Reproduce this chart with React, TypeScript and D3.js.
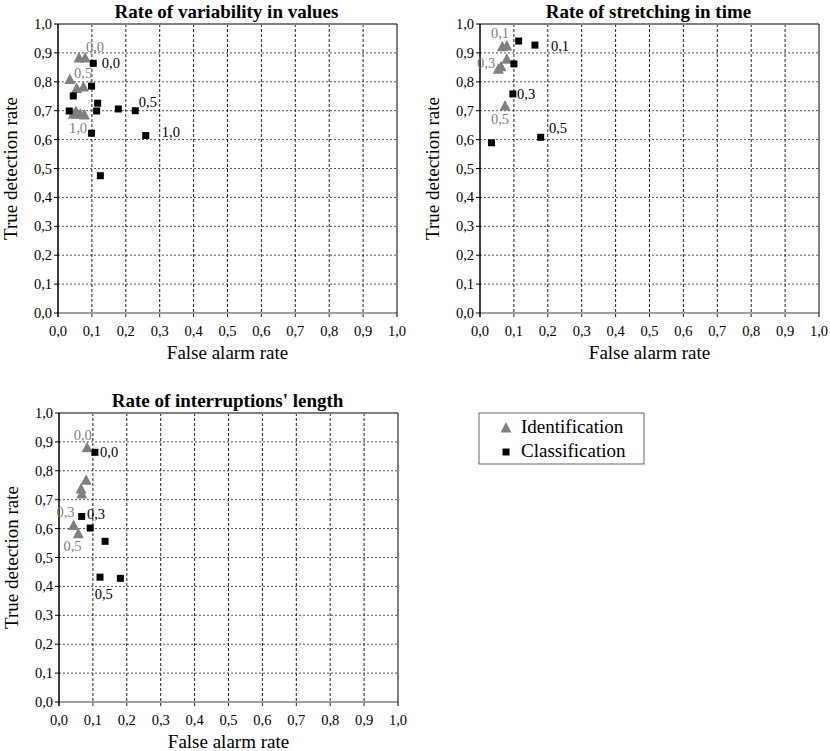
import React from "react";
import * as d3 from "d3";

const ticks = [0, 0.1, 0.2, 0.3, 0.4, 0.5, 0.6, 0.7, 0.8, 0.9, 1.0];
const fmt = (v: number) => v.toFixed(1).replace(".", ",");

const titles = ["Rate of variability in values", "Rate of stretching in time", "Rate of interruptions' length"];
const xTitle = "False alarm rate";
const yTitle = "True detection rate";
const seriesNames = ["Identification", "Classification"];

// Panel 1: variability in values
const ident1: [number, number][] = [
  [0.035, 0.808], [0.062, 0.882], [0.08, 0.882], [0.055, 0.777], [0.075, 0.782],
  [0.045, 0.688], [0.053, 0.697], [0.066, 0.688], [0.078, 0.685],
];
const class1: [number, number][] = [
  [0.104, 0.864], [0.099, 0.785], [0.045, 0.751], [0.033, 0.699], [0.117, 0.726],
  [0.114, 0.699], [0.178, 0.706], [0.228, 0.70], [0.099, 0.622], [0.259, 0.614], [0.125, 0.475],
];
const identLabels1: [number, number, string][] = [[0.109, 0.921, "0,0"], [0.074, 0.83, "0,5"], [0.059, 0.64, "1,0"]];
const classLabels1: [number, number, string][] = [[0.156, 0.865, "0,0"], [0.265, 0.73, "0,5"], [0.333, 0.626, "1,0"]];

// Panel 2: stretching in time
const ident2: [number, number][] = [
  [0.066, 0.921], [0.079, 0.924], [0.079, 0.878], [0.054, 0.843], [0.062, 0.852], [0.074, 0.716],
];
const class2: [number, number][] = [
  [0.114, 0.941], [0.162, 0.927], [0.100, 0.862], [0.097, 0.758], [0.179, 0.608], [0.034, 0.589],
];
const identLabels2: [number, number, string][] = [[0.059, 0.968, "0,1"], [0.018, 0.864, "0,3"], [0.059, 0.67, "0,5"]];
const classLabels2: [number, number, string][] = [[0.236, 0.925, "0,1"], [0.136, 0.758, "0,3"], [0.23, 0.639, "0,5"]];

// Panel 3: interruptions' length
const ident3: [number, number][] = [
  [0.083, 0.88], [0.080, 0.767], [0.065, 0.737], [0.067, 0.72], [0.043, 0.611], [0.057, 0.582],
];
const class3: [number, number][] = [
  [0.106, 0.864], [0.067, 0.642], [0.092, 0.602], [0.136, 0.556], [0.121, 0.432], [0.181, 0.428],
];
const identLabels3: [number, number, string][] = [[0.07, 0.924, "0,0"], [0.019, 0.656, "0,3"], [0.04, 0.539, "0,5"]];
const classLabels3: [number, number, string][] = [[0.148, 0.864, "0,0"], [0.109, 0.651, "0,3"], [0.132, 0.372, "0,5"]];

const panelsData = [
  { ident: ident1, cls: class1, il: identLabels1, cl: classLabels1 },
  { ident: ident2, cls: class2, il: identLabels2, cl: classLabels2 },
  { ident: ident3, cls: class3, il: identLabels3, cl: classLabels3 },
];

const layouts = [
  { left: 58, top: 24, w: 339, h: 289 },
  { left: 480, top: 24, w: 339, h: 289 },
  { left: 59, top: 413, w: 339, h: 289 },
];

const GRAY = "#808080";
const FONT = "'Liberation Serif', 'Times New Roman', Times, serif";

function triPath(cx: number, cy: number, s: number) {
  return `M${cx},${cy - s * 0.6}L${cx + s * 0.55},${cy + s * 0.45}L${cx - s * 0.55},${cy + s * 0.45}Z`;
}

function Panel({ idx }: { idx: number }) {
  const L = layouts[idx];
  const D = panelsData[idx];
  const x = d3.scaleLinear().domain([0, 1]).range([L.left, L.left + L.w]);
  const y = d3.scaleLinear().domain([0, 1]).range([L.top + L.h, L.top]);
  return (
    <g>
      <text x={L.left + L.w / 2 - 1} y={L.top - 6} textAnchor="middle" style={{ fontSize: 19, fontWeight: "bold" }}>
        {titles[idx]}
      </text>
      {ticks.slice(1, 10).map((t) => (
        <line key={"hg" + t} x1={x(0)} x2={x(1)} y1={y(t)} y2={y(t)} stroke="#555" strokeWidth={1} strokeDasharray="2,2" />
      ))}
      {ticks.slice(1, 10).map((t) => (
        <line key={"vg" + t} x1={x(t)} x2={x(t)} y1={y(1)} y2={y(0) + 4} stroke="#222" strokeWidth={1} strokeDasharray="3,2" />
      ))}
      <line x1={x(0)} x2={x(1)} y1={y(1)} y2={y(1)} stroke="#808080" strokeWidth={2} />
      <line x1={x(0)} x2={x(1)} y1={y(0)} y2={y(0)} stroke="#808080" strokeWidth={1.5} />
      <line x1={x(1)} x2={x(1)} y1={y(1)} y2={y(0) + 4} stroke="#000" strokeWidth={1} />
      <line x1={x(0)} x2={x(0)} y1={y(1)} y2={y(0) + 4} stroke="#000" strokeWidth={1.5} />
      {ticks.map((t) => (
        <line key={"yt" + t} x1={x(0) - 4} x2={x(0)} y1={y(t)} y2={y(t)} stroke="#000" />
      ))}
      {ticks.map((t) => (
        <text key={"yl" + t} x={x(0) - 6} y={y(t) + 5} textAnchor="end" style={{ fontSize: 14.5 }}>
          {fmt(t)}
        </text>
      ))}
      {ticks.map((t) => (
        <text key={"xl" + t} x={x(t)} y={y(0) + 23} textAnchor="middle" style={{ fontSize: 14.5 }}>
          {fmt(t)}
        </text>
      ))}
      <text x={L.left + L.w / 2} y={y(0) + 46} textAnchor="middle" style={{ fontSize: 19 }}>
        {xTitle}
      </text>
      <text
        transform={`translate(${L.left - 41},${L.top + L.h / 2}) rotate(-90)`}
        textAnchor="middle"
        style={{ fontSize: 19 }}
      >
        {yTitle}
      </text>
      {D.ident.map(([a, b], i) => (
        <path key={"i" + i} d={triPath(x(a), y(b), 10)} fill={GRAY} />
      ))}
      {D.cls.map(([a, b], i) => (
        <rect key={"c" + i} x={x(a) - 3.5} y={y(b) - 3.5} width={7} height={7} fill="#000" />
      ))}
      {D.il.map(([a, b, s], i) => (
        <text key={"il" + i} x={x(a)} y={y(b) + 5} textAnchor="middle" fill={GRAY} style={{ fontSize: 14.5 }}>
          {s}
        </text>
      ))}
      {D.cl.map(([a, b, s], i) => (
        <text key={"cl" + i} x={x(a)} y={y(b) + 5} textAnchor="middle" fill="#000" style={{ fontSize: 14.5 }}>
          {s}
        </text>
      ))}
    </g>
  );
}

function Legend() {
  const lx = 479, ly = 413, lw = 165, lh = 51;
  return (
    <g>
      <rect x={lx} y={ly} width={lw} height={lh} fill="#fff" stroke="#666" strokeWidth={1} />
      <path d={triPath(506, 428, 10)} fill={GRAY} />
      <text x={521} y={433} style={{ fontSize: 19 }}>{seriesNames[0]}</text>
      <rect x={502.5} y={448.5} width={7} height={7} fill="#000" />
      <text x={521} y={457} style={{ fontSize: 19 }}>{seriesNames[1]}</text>
    </g>
  );
}

export default function App() {
  return (
    <svg
      width={830}
      height={751}
      style={{ position: "absolute", left: 0, top: 0, background: "#fff", fontFamily: FONT }}
    >
      <rect width={830} height={751} fill="#fff" />
      <Panel idx={0} />
      <Panel idx={1} />
      <Panel idx={2} />
      <Legend />
    </svg>
  );
}
